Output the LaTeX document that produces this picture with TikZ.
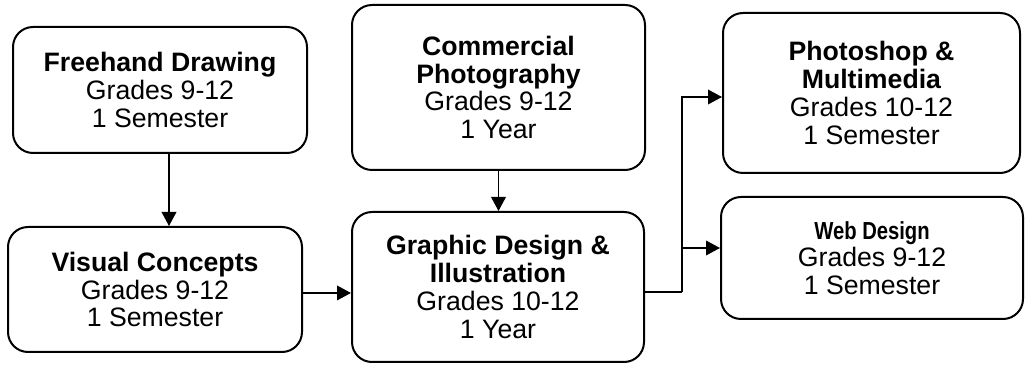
\documentclass[tikz,border=0pt]{standalone}
\usepackage{fontspec}
\setmainfont{Liberation Sans}
\newfontfamily\narrowfont[FakeStretch=0.82]{Liberation Sans}
\usetikzlibrary{arrows.meta}

\begin{document}
\begin{tikzpicture}[x=0.75pt,y=-0.75pt,
  course/.style={draw, line width=1.5pt, rounded corners=15pt, align=center,
    inner sep=0pt, font=\fontsize{20}{20.8}\selectfont},
  arr/.style={line width=1pt, -{Triangle[length=10.5pt,width=11pt]}},
  link/.style={line width=1pt}]
\useasboundingbox (0,0) rectangle (1029,366);
%
  \node [course, minimum width=220.5pt, minimum height=94.5pt] at (160,90) (freehand)
    {\textbf{Freehand Drawing}\\Grades 9-12\\1 Semester};
  \node [course, minimum width=220.5pt, minimum height=93.75pt] at (155,289.5) (visual)
    {\textbf{Visual Concepts}\\Grades 9-12\\1 Semester};
  \node [course, minimum width=219.75pt, minimum height=123.75pt] at (498.5,87.5) (commercial)
    {\textbf{Commercial}\\\textbf{Photography}\\Grades 9-12\\1 Year};
  \node [course, minimum width=219pt, minimum height=112.5pt] at (498,287) (graphic)
    {\textbf{Graphic Design \&}\\\textbf{Illustration}\\Grades 10-12\\1 Year};
  \node [course, minimum width=222.75pt, minimum height=120pt] at (871.5,93) (photo)
    {\textbf{Photoshop \&}\\\textbf{Multimedia}\\Grades 10-12\\1 Semester};
  \node [course, minimum width=226.5pt, minimum height=91.5pt] at (872,258) (web)
    {{\narrowfont\fontsize{18.5}{20.8}\selectfont\bfseries Web Design}\\Grades 9-12\\1 Semester};
%
  \coordinate (split) at (682,292);
%
\draw[arr] ([xshift=6.75pt]freehand.south) -- ([xshift=6.75pt]freehand.south |- visual.north);
\draw[arr] (commercial.south) -- (commercial.south |- graphic.north);
\draw[arr] ([yshift=-2.6pt]visual.east) -- ([yshift=-2.6pt]visual.east -| graphic.west);
\draw[link] (graphic.east |- split) -- (split);
\draw[arr] (split) |- ([yshift=-3pt]photo.west);
\draw[arr] (split) |- ([yshift=7.5pt]web.west);
\end{tikzpicture}
\end{document}
